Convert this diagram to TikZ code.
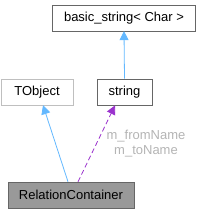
\documentclass[tikz,border=0pt]{standalone}
\usepackage{fontspec}
\setmainfont{Liberation Sans}
\usetikzlibrary{arrows.meta}
\definecolor{edgeblue}{HTML}{63B8FF}
\definecolor{edgepurple}{HTML}{9A32CD}
\definecolor{lblgray}{HTML}{B4B4B4}
\tikzset{
  cls/.style={draw=#1, rectangle, inner sep=0pt, font=\fontsize{13}{15}\selectfont, text=black},
  inh/.style={draw=edgeblue, line width=0.8pt, -{Triangle[length=9pt, width=9pt, fill=edgeblue]}},
  use/.style={draw=edgepurple, line width=0.8pt, dash pattern=on 5pt off 3pt, -{Triangle[length=9pt, width=9pt, fill=edgepurple]}},
}
\begin{document}
\begin{tikzpicture}[x=1pt,y=1pt]
\useasboundingbox (0,0) rectangle (202,-213);
\node[cls=black!60, minimum width=143pt, minimum height=26pt] (bs) at (124,-18) {basic\_string< Char >};
\node[cls=black!25, minimum width=72pt, minimum height=26pt] (tobj) at (37,-92) {TObject};
\node[cls=black!60, minimum width=55pt, minimum height=26pt, line width=0.8pt] (str) at (124.5,-92) {string};
\node[cls=black!60, fill=black!40, minimum width=126pt, minimum height=26pt] (rc) at (71,-195) {RelationContainer};
\draw[inh] (str.north) -- (bs.south);
\draw[inh] (rc.north -| 68,0) -- (tobj.south -| 43,0);
\draw[use] (rc.north -| 78,0) -- (str.south -| 115,0);
\node[text=lblgray, font=\fontsize{13}{15}\selectfont, align=center, inner sep=0pt] (lbl) at (146,-143.5) {m\_fromName\\m\_toName};
\end{tikzpicture}
\end{document}
